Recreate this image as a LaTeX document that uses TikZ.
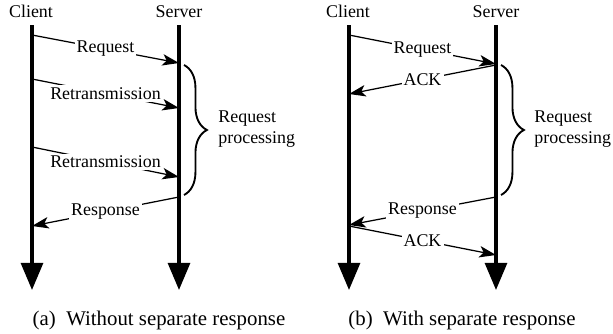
\documentclass[tikz,border=0pt]{standalone}
\usepackage{fontspec}
\setmainfont{Liberation Serif}
\usepackage{tikz}
\usetikzlibrary{arrows.meta,decorations.pathreplacing}
\tikzset{
  hdr/.style       = {anchor=base, inner sep=0pt},
  lifeline/.style  = {line width=1.6pt, -{Triangle[length=13pt,width=10.5pt]}},
  msg/.style       = {line width=0.6pt, -{Stealth[length=8pt,width=5.5pt,inset=2pt]}},
  lbl/.style       = {fill=white, inner sep=1pt, midway},
  procbrace/.style = {decorate, decoration={brace,amplitude=11pt}, line width=0.9pt},
  proclbl/.style   = {anchor=west, align=left, inner sep=0pt},
  subcap/.style    = {anchor=base, inner sep=0pt, font=\fontsize{10}{12}\selectfont},
}

\begin{document}
\begin{tikzpicture}[x=0.48pt,y=-0.48pt,font=\fontsize{8.6}{9.8}\selectfont]
\useasboundingbox (0,0) rectangle (613,334);
% (a) without separate response
\node[hdr] (cla) at (31,17) {Client};
\node[hdr] (sva) at (179,17) {Server};
\coordinate (cla0) at (32,25);  \coordinate (cla9) at (32,290);
\coordinate (sva0) at (179,25); \coordinate (sva9) at (179,290);
\coordinate (cla1) at (32,35);  \coordinate (sva1) at (179,63);
\coordinate (cla2) at (32,79);  \coordinate (sva2) at (179,108);
\coordinate (cla3) at (32,147); \coordinate (sva3) at (179,177);
\coordinate (sva4) at (179,197); \coordinate (cla4) at (32,226);
\draw[msg] (cla1) -- node[lbl]{Request} (sva1);
\draw[msg] (cla2) -- node[lbl]{Retransmission} (sva2);
\draw[msg] (cla3) -- node[lbl]{Retransmission} (sva3);
\draw[msg] (sva4) -- node[lbl]{Response} (cla4);
\draw[lifeline] (cla0) -- (cla9);
\draw[lifeline] (sva0) -- (sva9);
\coordinate (bra0) at (184,65); \coordinate (bra1) at (184,195);
\draw[procbrace] (bra0) -- (bra1);
\node[proclbl] (pra) at (218,129) {Request\\processing};
\node[subcap] (capa) at (159,325) {(a)\hspace{5pt}Without separate response};
% (b) with separate response
\node[hdr] (clb) at (348,17) {Client};
\node[hdr] (svb) at (496,17) {Server};
\coordinate (clb0) at (349,25);  \coordinate (clb9) at (349,290);
\coordinate (svb0) at (496,25);  \coordinate (svb9) at (496,290);
\coordinate (clb1) at (349,35);  \coordinate (svb1) at (496,64);
\coordinate (svb2) at (496,65);  \coordinate (clb2) at (349,94);
\coordinate (svb3) at (496,197); \coordinate (clb3) at (349,225);
\coordinate (clb4) at (349,226); \coordinate (svb4) at (496,255);
\draw[msg] (clb1) -- node[lbl]{Request} (svb1);
\draw[msg] (svb2) -- node[lbl]{ACK} (clb2);
\draw[msg] (svb3) -- node[lbl]{Response} (clb3);
\draw[msg] (clb4) -- node[lbl]{ACK} (svb4);
\draw[lifeline] (clb0) -- (clb9);
\draw[lifeline] (svb0) -- (svb9);
\coordinate (brb0) at (501,65); \coordinate (brb1) at (501,195);
\draw[procbrace] (brb0) -- (brb1);
\node[proclbl] (prb) at (534,129) {Request\\processing};
\node[subcap] (capb) at (462,325) {(b)\hspace{5pt}With separate response};
\end{tikzpicture}
\end{document}
